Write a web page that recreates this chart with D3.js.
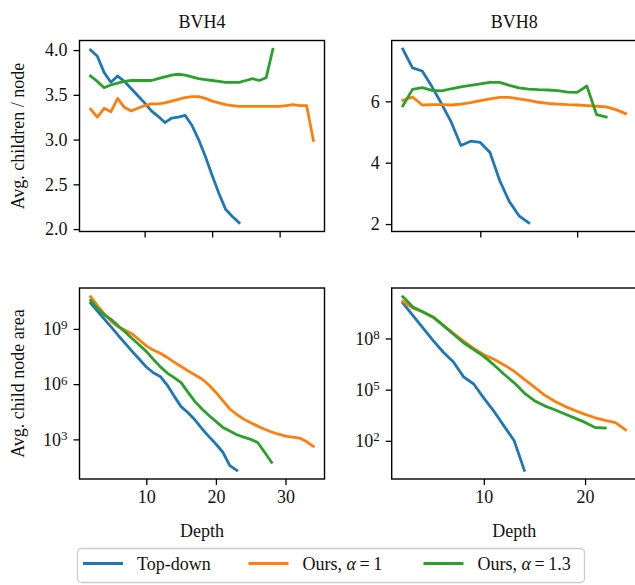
<!DOCTYPE html>
<html>
<head>
<meta charset="utf-8">
<script src="https://cdn.jsdelivr.net/npm/d3@7"></script>
<style>
  body { margin: 0; background: #fff; }
  svg text { font-family: "Liberation Serif", "DejaVu Serif", serif; }
</style>
</head>
<body>
<div id="chart"></div>
<script>
// every series starts at depth 2, one value per depth
const FIRST_DEPTH = 2;

// Avg. children / node, BVH4
const childrenBvh4TopDown = [4.00, 3.93, 3.75, 3.64, 3.71, 3.65, 3.57, 3.49, 3.41, 3.32, 3.26, 3.19, 3.24, 3.25, 3.27, 3.16, 3.00, 2.81, 2.60, 2.40, 2.22, 2.14, 2.07];
const childrenBvh4Ours1 = [3.34, 3.25, 3.35, 3.31, 3.46, 3.36, 3.32, 3.35, 3.38, 3.40, 3.40, 3.41, 3.43, 3.45, 3.47, 3.48, 3.48, 3.46, 3.43, 3.41, 3.39, 3.38, 3.37, 3.37, 3.37, 3.37, 3.37, 3.37, 3.37, 3.38, 3.39, 3.38, 3.38, 2.99];
const childrenBvh4Ours13 = [3.71, 3.65, 3.58, 3.61, 3.63, 3.65, 3.66, 3.66, 3.66, 3.66, 3.68, 3.70, 3.72, 3.73, 3.72, 3.70, 3.68, 3.67, 3.66, 3.65, 3.64, 3.64, 3.64, 3.66, 3.68, 3.66, 3.69, 4.01];

// Avg. children / node, BVH8
const childrenBvh8TopDown = [7.70, 7.09, 6.99, 6.48, 5.92, 5.32, 4.56, 4.70, 4.66, 4.33, 3.42, 2.73, 2.27, 2.04];
const childrenBvh8Ours1 = [6.03, 6.14, 5.88, 5.89, 5.89, 5.88, 5.91, 5.96, 6.02, 6.08, 6.13, 6.13, 6.08, 6.03, 5.97, 5.93, 5.91, 5.89, 5.88, 5.86, 5.84, 5.82, 5.73, 5.60];
const childrenBvh8Ours13 = [5.85, 6.39, 6.45, 6.36, 6.34, 6.41, 6.47, 6.52, 6.57, 6.62, 6.62, 6.52, 6.44, 6.40, 6.38, 6.37, 6.35, 6.30, 6.29, 6.50, 5.57, 5.49];

// Avg. child node area, read as log10 exponents
const areaExpBvh4TopDown = [10.40, 9.95, 9.52, 9.08, 8.63, 8.20, 7.77, 7.35, 6.93, 6.62, 6.42, 5.95, 5.35, 4.78, 4.45, 4.05, 3.58, 3.15, 2.75, 2.30, 1.58, 1.32];
const areaExpBvh4Ours1 = [10.75, 10.25, 9.80, 9.40, 9.10, 8.92, 8.72, 8.40, 8.08, 7.85, 7.68, 7.45, 7.20, 6.96, 6.72, 6.50, 6.28, 5.95, 5.55, 5.10, 4.65, 4.35, 4.10, 3.90, 3.72, 3.55, 3.40, 3.28, 3.18, 3.12, 3.07, 2.88, 2.62];
const areaExpBvh4Ours13 = [10.55, 10.10, 9.75, 9.50, 9.16, 8.82, 8.47, 8.13, 7.78, 7.35, 6.95, 6.60, 6.35, 6.08, 5.55, 5.05, 4.65, 4.30, 3.98, 3.65, 3.45, 3.25, 3.12, 3.00, 2.83, 2.30, 1.75];

const areaExpBvh8TopDown = [10.08, 9.34, 8.60, 7.87, 7.19, 6.62, 5.75, 5.33, 4.50, 3.73, 2.86, 2.00, 0.27];
const areaExpBvh8Ours1 = [10.18, 9.78, 9.55, 9.25, 8.78, 8.30, 7.85, 7.42, 7.05, 6.78, 6.45, 6.08, 5.60, 5.15, 4.68, 4.32, 4.02, 3.78, 3.55, 3.35, 3.20, 3.07, 2.65];
const areaExpBvh8Ours13 = [10.45, 9.85, 9.55, 9.25, 8.75, 8.25, 7.75, 7.35, 6.95, 6.45, 5.90, 5.40, 4.80, 4.35, 4.05, 3.82, 3.57, 3.33, 3.08, 2.78, 2.75];

const seriesNames = ["Top-down", "Ours, α=1", "Ours, α=1.3"];
const colors = ["#1f77b4", "#ff7f0e", "#2ca02c"];

const titles = ["BVH4", "BVH8"];
const yLabels = ["Avg. children / node", "Avg. child node area"];
const xLabel = "Depth";

const xTicks = [10, 20, 30];
const yTicksBvh4 = [2.0, 2.5, 3.0, 3.5, 4.0];
const yTicksBvh8 = [2, 4, 6];
const logTicksBvh4 = [3, 6, 9];
const logTicksBvh8 = [2, 5, 8];

// layout
const W = 635, H = 585;
const PW = 245, PH = 191;
const COL_X = [79.5, 391.7];
const ROW_Y = [40.5, 288];
const FONT = 18;
const LINE_W = 2.8;
const TEXT_COLOR = "#111";

const svg = d3.select("#chart").append("svg")
    .attr("width", W)
    .attr("height", H)
    .style("display", "block");

function toPoints(values, isExp) {
    return values.map((v, i) => ({ d: FIRST_DEPTH + i, v: isExp ? Math.pow(10, v) : v }));
}

// matplotlib style 5% margins
function padded(lo, hi) {
    const m = (hi - lo) * 0.05;
    return [lo - m, hi + m];
}

function drawPanel(col, row, seriesList, opt) {
    const g = svg.append("g").attr("transform", `translate(${COL_X[col]},${ROW_Y[row]})`);
    const pts = seriesList.map(s => toPoints(s, opt.log));
    const all = pts.flat();

    const x = d3.scaleLinear()
        .domain(padded(d3.min(all, p => p.d), d3.max(all, p => p.d)))
        .range([0, PW]);

    let y;
    if (opt.log) {
        const e = padded(d3.min(all, p => Math.log10(p.v)), d3.max(all, p => Math.log10(p.v)));
        y = d3.scaleLog().domain([Math.pow(10, e[0]), Math.pow(10, e[1])]).range([PH, 0]);
    } else {
        y = d3.scaleLinear().domain(padded(d3.min(all, p => p.v), d3.max(all, p => p.v))).range([PH, 0]);
    }

    const line = d3.line().x(p => x(p.d)).y(p => y(p.v));
    pts.forEach((p, i) => {
        g.append("path")
            .datum(p)
            .attr("d", line)
            .attr("fill", "none")
            .attr("stroke", colors[i])
            .attr("stroke-width", LINE_W)
            .attr("stroke-linejoin", "round")
            .attr("stroke-linecap", "square");
    });

    // x axis
    const xAxis = d3.axisBottom(x)
        .tickValues(xTicks.filter(t => t < x.domain()[1]))
        .tickSize(6)
        .tickPadding(5)
        .tickFormat(opt.xLabels ? d3.format("d") : "");
    const gx = g.append("g").attr("transform", `translate(0,${PH})`).call(xAxis);

    // y axis
    const yAxis = d3.axisLeft(y).tickSize(6).tickPadding(6);
    if (opt.log) {
        yAxis.tickValues(opt.yTicks.map(t => Math.pow(10, t))).tickFormat("");
    } else {
        yAxis.tickValues(opt.yTicks).tickFormat(opt.yFormat);
    }
    const gy = g.append("g").call(yAxis);

    if (opt.log) {
        gy.selectAll(".tick text")
            .text(null)
            .each(function (d) {
                const t = d3.select(this);
                t.append("tspan").text("10");
                t.append("tspan")
                    .attr("dy", "-0.45em")
                    .style("font-size", (FONT * 0.72) + "px")
                    .text(Math.round(Math.log10(d)));
            });
    }

    [gx, gy].forEach(a => {
        a.select(".domain").remove();
        a.selectAll(".tick line").attr("stroke", "#000").attr("stroke-width", 1.3);
        a.selectAll(".tick text")
            .attr("fill", TEXT_COLOR)
            .style("font-size", FONT + "px")
            .style("font-family", '"Liberation Serif", "DejaVu Serif", serif');
    });

    g.append("rect")
        .attr("width", PW)
        .attr("height", PH)
        .attr("fill", "none")
        .attr("stroke", "#000")
        .attr("stroke-width", 1.4);
}

drawPanel(0, 0, [childrenBvh4TopDown, childrenBvh4Ours1, childrenBvh4Ours13],
    { log: false, yTicks: yTicksBvh4, yFormat: d3.format(".1f"), xLabels: false });
drawPanel(1, 0, [childrenBvh8TopDown, childrenBvh8Ours1, childrenBvh8Ours13],
    { log: false, yTicks: yTicksBvh8, yFormat: d3.format("d"), xLabels: false });
drawPanel(0, 1, [areaExpBvh4TopDown, areaExpBvh4Ours1, areaExpBvh4Ours13],
    { log: true, yTicks: logTicksBvh4, xLabels: true });
drawPanel(1, 1, [areaExpBvh8TopDown, areaExpBvh8Ours1, areaExpBvh8Ours13],
    { log: true, yTicks: logTicksBvh8, xLabels: true });

// titles
titles.forEach((t, i) => {
    svg.append("text")
        .attr("x", COL_X[i] + PW / 2)
        .attr("y", 28)
        .attr("text-anchor", "middle")
        .style("font-size", FONT + "px")
        .attr("fill", TEXT_COLOR)
        .text(t);
});

// y labels
yLabels.forEach((t, i) => {
    svg.append("text")
        .attr("transform", `translate(24,${ROW_Y[i] + PH / 2}) rotate(-90)`)
        .attr("text-anchor", "middle")
        .style("font-size", FONT + "px")
        .attr("fill", TEXT_COLOR)
        .text(t);
});

// x labels
COL_X.forEach(cx => {
    svg.append("text")
        .attr("x", cx + PW / 2)
        .attr("y", 537)
        .attr("text-anchor", "middle")
        .style("font-size", FONT + "px")
        .attr("fill", TEXT_COLOR)
        .text(xLabel);
});

// legend
const legend = svg.append("g");
legend.append("rect")
    .attr("x", 77.5)
    .attr("y", 548.5)
    .attr("width", 507)
    .attr("height", 34)
    .attr("rx", 4)
    .attr("fill", "#fff")
    .attr("stroke", "#cccccc")
    .attr("stroke-width", 1.3);

const legendX = [83, 248.5, 423.5];
seriesNames.forEach((name, i) => {
    const lx = legendX[i];
    legend.append("line")
        .attr("x1", lx).attr("x2", lx + 40)
        .attr("y1", 563.5).attr("y2", 563.5)
        .attr("stroke", colors[i])
        .attr("stroke-width", LINE_W);
    const txt = legend.append("text")
        .attr("x", lx + 54)
        .attr("y", 569.5)
        .style("font-size", FONT + "px")
        .attr("fill", TEXT_COLOR);
    const parts = name.split("α=");
    txt.append("tspan").text(parts[0]);
    if (parts.length > 1) {
        txt.append("tspan").style("font-style", "italic").text("α");
        txt.append("tspan").text("\u2009=\u2009" + parts[1]);
    }
});
</script>
</body>
</html>
